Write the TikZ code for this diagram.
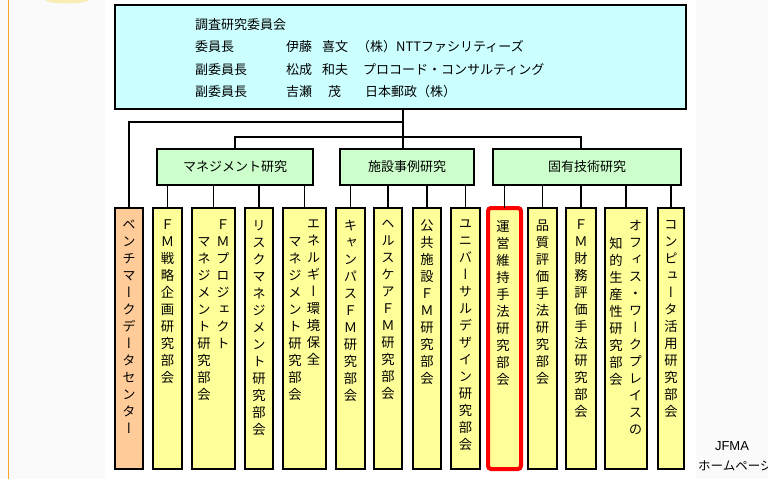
\documentclass[tikz,border=0pt]{standalone}
\usepackage{fontspec}
\setmainfont{Noto Sans CJK JP}
\newfontfamily\cjkv{Noto Sans CJK JP}[RawFeature=+vert]
\newfontfamily\latinsans{Liberation Sans}
\definecolor{cyanfill}{HTML}{CCFFFF}
\definecolor{greenfill}{HTML}{CCFFCC}
\definecolor{yellowfill}{HTML}{FFFF99}
\definecolor{orangefill}{HTML}{FFCC99}
\definecolor{bggray}{HTML}{FAFAFA}
\definecolor{edgeorange}{HTML}{F5A623}
\definecolor{blobyellow}{HTML}{F9EDB5}
\ExplSyntaxOn
\NewDocumentCommand\vtxt{m}{\vbox{\baselineskip=17pt\lineskiplimit=-\maxdimen\lineskip=0pt\tl_map_inline:nn{#1}{\hbox_to_wd:nn{1em}{\hss ##1\hss}}}}
\ExplSyntaxOff
\tikzset{
  bx/.style={draw=black, line width=2.2pt, inner sep=0pt, outer sep=0pt, rectangle},
  topbox/.style={bx, fill=cyanfill, minimum width=571pt, minimum height=104pt},
  grpbox/.style={bx, fill=greenfill, minimum height=36pt, font=\fontsize{13}{15}\selectfont},
  subbox/.style={bx, fill=yellowfill, minimum height=261pt},
  benchbox/.style={bx, fill=orangefill, minimum height=261pt},
  redbox/.style={rectangle, draw=red, line width=4pt, rounded corners=3pt, fill=yellowfill, inner sep=0pt, outer sep=0pt, minimum height=261pt},
  vt/.style={anchor=north, inner sep=0pt, font=\cjkv\fontsize{13.3}{17}\selectfont},
  ht/.style={anchor=west, inner sep=0pt, font=\fontsize{13}{15}\selectfont},
  conn/.style={draw=black, line width=1.8pt},
}
\begin{document}
\begin{tikzpicture}[x=1pt,y=-1pt]
\useasboundingbox (0,0) rectangle (768,479);
\clip (0,0) rectangle (768,479);
% background
\fill[bggray] (0,0) rectangle (768,479);
\fill[white] (105,0) rectangle (696,479);
\draw[edgeorange, line width=1pt] (8,0) -- (8,479);
\fill[blobyellow] (67,-1) ellipse (23pt and 4.5pt);

% top committee box
\node[topbox] (top) at (400.5,57) {};
\node[ht] (t1) at (195,25) {調査研究委員会};
\node[ht] (t2a) at (195,47) {委員長};
\node[ht] (t2b) at (286,47) {伊藤};
\node[ht] (t2c) at (322,47) {喜文};
\node[ht] (t2d) at (357,47) {（株）NTTファシリティーズ};
\node[ht] (t3a) at (195,70) {副委員長};
\node[ht] (t3b) at (286,70) {松成};
\node[ht] (t3c) at (322,70) {和夫};
\node[ht] (t3d) at (363,70) {プロコード・コンサルティング};
\node[ht] (t4a) at (195,92) {副委員長};
\node[ht] (t4b) at (286,92) {吉瀬};
\node[ht] (t4c) at (328,92) {茂};
\node[ht] (t4d) at (365,92) {日本郵政（株）};

% group boxes
\node[grpbox, minimum width=156pt] (mgmt) at (235,167) {マネジメント研究};
\node[grpbox, minimum width=134pt] (case) at (407,167) {施設事例研究};
\node[grpbox, minimum width=188pt] (tech) at (587,167) {固有技術研究};

% sub committees
\node[benchbox, minimum width=28pt] (bench) at (129,338.5) {};
\node[subbox, minimum width=29pt] (b1) at (167.5,338.5) {};
\node[subbox, minimum width=43pt] (b2) at (213.5,338.5) {};
\node[subbox, minimum width=28pt] (b3) at (259,338.5) {};
\node[subbox, minimum width=43pt] (b4) at (304.5,338.5) {};
\node[subbox, minimum width=29pt] (b5) at (350.5,338.5) {};
\node[subbox, minimum width=28pt] (b6) at (388,338.5) {};
\node[subbox, minimum width=28pt] (b7) at (427,338.5) {};
\node[subbox, minimum width=29pt] (b8) at (465.5,338.5) {};
\node[redbox, minimum width=33pt] (b9) at (504.5,338.5) {};
\node[subbox, minimum width=29pt] (b10) at (542.5,338.5) {};
\node[subbox, minimum width=30pt] (b11) at (581,338.5) {};
\node[subbox, minimum width=42pt] (b12) at (626,338.5) {};
\node[subbox, minimum width=26pt] (b13) at (671,338.5) {};

% vertical texts
\node[vt] (v0) at (129,220) {\vtxt{ベンチマークデータセンター}};
\node[vt] (v1) at (167.5,220) {\vtxt{ＦＭ戦略企画研究部会}};
\node[vt] (v2r) at (223,220) {\vtxt{ＦＭプロジェクト}};
\node[vt] (v2l) at (204,237) {\vtxt{マネジメント研究部会}};
\node[vt] (v3) at (259,220) {\vtxt{リスクマネジメント研究部会}};
\node[vt] (v4r) at (313.5,220) {\vtxt{エネルギー環境保全}};
\node[vt] (v4l) at (295,237) {\vtxt{マネジメント研究部会}};
\node[vt] (v5) at (350.5,220) {\vtxt{キャンパスＦＭ研究部会}};
\node[vt] (v6) at (388,220) {\vtxt{ヘルスケアＦＭ研究部会}};
\node[vt] (v7) at (427,220) {\vtxt{公共施設ＦＭ研究部会}};
\node[vt] (v8) at (465.5,220) {\vtxt{ユニバーサルデザイン研究部会}};
\node[vt] (v9) at (503,220) {\vtxt{運営維持手法研究部会}};
\node[vt] (v10) at (542.5,220) {\vtxt{品質評価手法研究部会}};
\node[vt] (v11) at (581,220) {\vtxt{ＦＭ財務評価手法研究部会}};
\node[vt] (v12r) at (635.5,220) {\vtxt{オフィス・ワークプレイスの}};
\node[vt] (v12l) at (616,237) {\vtxt{知的生産性研究部会}};
\node[vt] (v13) at (671,220) {\vtxt{コンピュータ活用研究部会}};

% connectors
\coordinate (j1) at (403,122);
\coordinate (j2) at (403,137);
\draw[conn] (top.south -| j1) -- (case.north -| j1);
\draw[conn] (j1) -| (bench.north);
\draw[conn] (mgmt.north) |- (j2) -| ([xshift=-6pt]tech.north);
\foreach \c in {b1,b2,b3,b4}{\draw[conn] (mgmt.south -| \c.north) -- (\c.north);}
\foreach \c in {b5,b6,b7,b8}{\draw[conn] (case.south -| \c.north) -- (\c.north);}
\foreach \c in {b9,b10,b11,b12,b13}{\draw[conn] (tech.south -| \c.north) -- (\c.north);}

% footer
\node[inner sep=0pt, font=\latinsans\fontsize{13}{15}\selectfont] (jf) at (732,446) {JFMA};
\node[anchor=west, inner sep=0pt, font=\fontsize{12.5}{14}\selectfont] (hp) at (698,466) {ホームページ};
\end{tikzpicture}
\end{document}
